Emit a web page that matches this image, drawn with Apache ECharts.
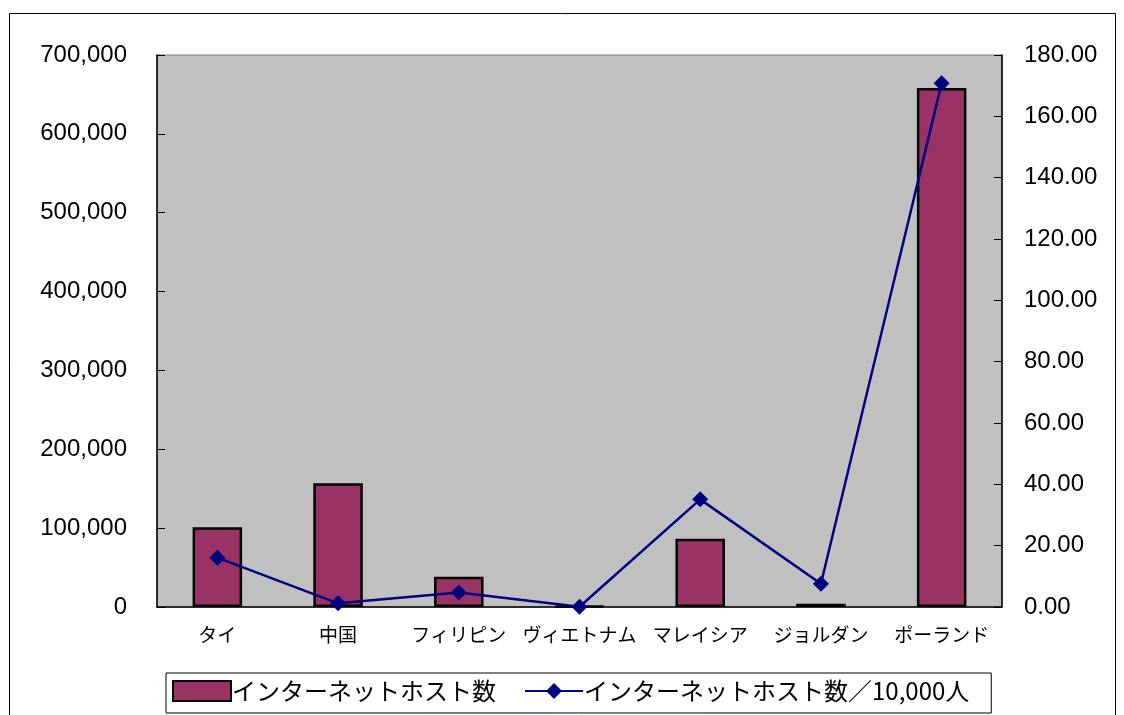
<!DOCTYPE html>
<html>
<head>
<meta charset="utf-8">
<script src="https://cdn.jsdelivr.net/npm/echarts@6/dist/echarts.min.js"></script>
<style>
  html, body { margin: 0; padding: 0; background: #fff; }
  #chart { width: 1124px; height: 715px; }
</style>
</head>
<body>
<div id="chart"></div>
<script>
// Countries (x axis)
const countries = ['タイ', '中国', 'フィリピン', 'ヴィエトナム', 'マレイシア', 'ジョルダン', 'ポーランド'];
// Internet hosts (left axis)
const hosts = [101000, 157000, 38500, 1200, 86500, 4200, 658000];
// Internet hosts per 10,000 people (right axis)
const hostsPer10k = [16.1, 1.2, 4.7, 0.1, 35.1, 7.6, 170.8];

const barName = 'インターネットホスト数';
const lineName = 'インターネットホスト数／10,000人';

const chart = echarts.init(document.getElementById('chart'), null, { renderer: 'canvas' });

const fontAxis = '"Liberation Sans", Arial, sans-serif';
const fontJp = '"Noto Sans CJK JP", sans-serif';

chart.setOption({
  animation: false,
  backgroundColor: '#ffffff',
  graphic: [
    {
      type: 'rect',
      shape: { x: 9.5, y: 13.5, width: 1106, height: 720 },
      style: { fill: 'none', stroke: '#000', lineWidth: 1 },
      silent: true,
      z: -10
    }
  ],
  grid: {
    left: 157, right: 122, top: 55, bottom: 108,
    show: true,
    backgroundColor: '#c0c0c0',
    borderColor: '#808080',
    borderWidth: 1
  },
  legend: {
    left: 166, top: 673,
    itemWidth: 58, itemHeight: 20,
    itemGap: 28,
    padding: [6, 22, 10, 6],
    borderColor: '#000', borderWidth: 1,
    backgroundColor: '#fff',
    textStyle: { fontFamily: fontJp, fontSize: 24, color: '#000', padding: [0, 0, 0, -4] },
    data: [
      { name: barName, icon: 'rect', itemStyle: { color: '#993366', borderColor: '#000', borderWidth: 2 } },
      { name: lineName }
    ]
  },
  xAxis: {
    type: 'category',
    data: countries,
    axisLine: { lineStyle: { color: '#000', width: 1.5 } },
    axisTick: { inside: true, length: 7, alignWithLabel: false, lineStyle: { color: '#000' } },
    axisLabel: { interval: 0, fontFamily: fontJp, fontSize: 19, color: '#000', margin: 18 }
  },
  yAxis: [
    {
      type: 'value', min: 0, max: 700000, interval: 100000,
      splitLine: { show: false },
      axisLine: { show: true, lineStyle: { color: '#000', width: 1.5 } },
      axisTick: { show: true, inside: true, length: 8, lineStyle: { color: '#000' } },
      axisLabel: {
        fontFamily: fontAxis, fontSize: 24, color: '#000', margin: 30,
        formatter: v => v.toLocaleString('en-US')
      }
    },
    {
      type: 'value', min: 0, max: 180, interval: 20,
      position: 'right',
      splitLine: { show: false },
      axisLine: { show: true, lineStyle: { color: '#000', width: 1.5 } },
      axisTick: { show: true, inside: true, length: 8, lineStyle: { color: '#000' } },
      axisLabel: {
        fontFamily: fontAxis, fontSize: 24, color: '#000', margin: 22,
        formatter: v => v.toFixed(2)
      }
    }
  ],
  series: [
    {
      name: barName,
      type: 'bar',
      yAxisIndex: 0,
      data: hosts,
      barWidth: '41%',
      itemStyle: { color: '#993366', borderColor: '#000', borderWidth: 2.5 }
    },
    {
      name: lineName,
      type: 'line',
      yAxisIndex: 1,
      data: hostsPer10k,
      symbol: 'diamond',
      symbolSize: 16,
      lineStyle: { color: '#000080', width: 2.5 },
      itemStyle: { color: '#000080' }
    }
  ]
});
</script>
</body>
</html>
